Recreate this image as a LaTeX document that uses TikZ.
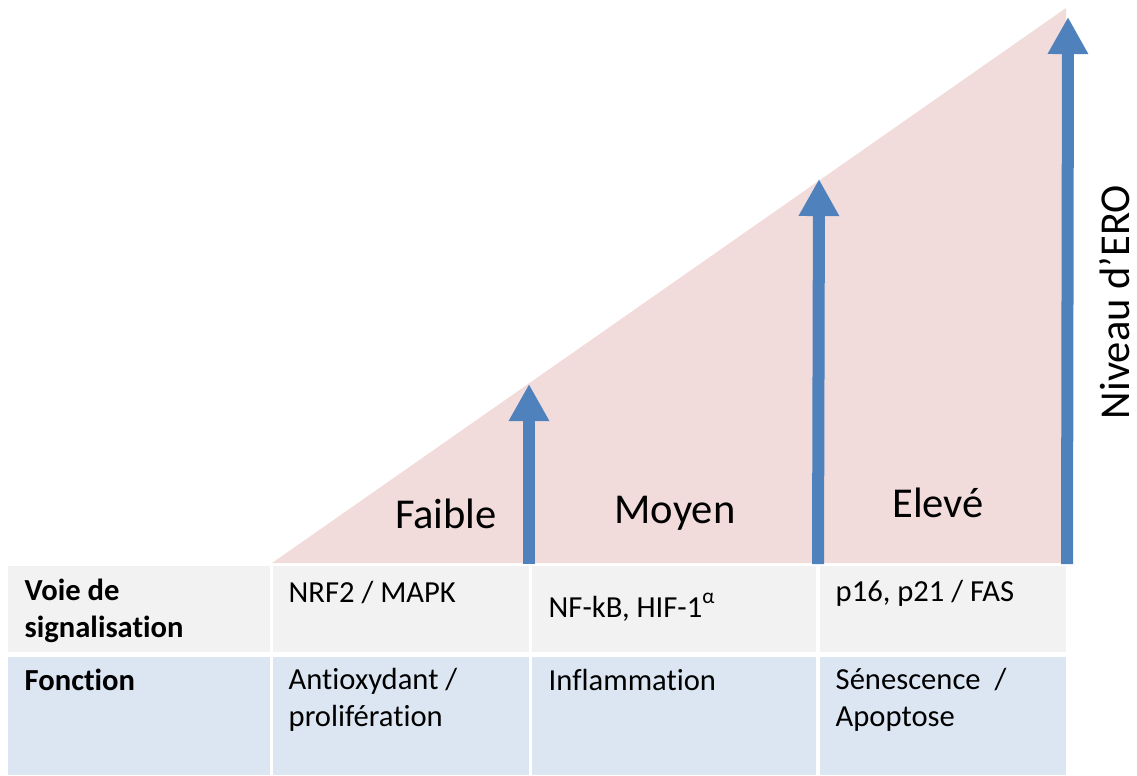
\documentclass[tikz,border=0pt]{standalone}
\usepackage{fontspec}
\setmainfont{Carlito}[Ligatures=NoCommon]
\usepackage{tikz}
\usetikzlibrary{arrows.meta}

\definecolor{rosefond}{RGB}{242,220,219}
\definecolor{bleufleche}{RGB}{79,129,189}
\definecolor{lignegris}{RGB}{242,242,242}
\definecolor{lignebleu}{RGB}{220,230,242}

\tikzset{
  cellule/.style={anchor=north west, inner sep=0pt, outer sep=0pt},
  textecellule/.style={anchor=base west, inner sep=0pt, align=left, font=\fontsize{8.7pt}{10.3pt}\selectfont},
  niveau/.style={anchor=base, inner sep=0pt, font=\fontsize{12.1pt}{14pt}\selectfont},
  fleche/.style={bleufleche, line width=0.12cm, -{Triangle[width=0.38cm, length=0.37cm]}}
}

\begin{document}
\begin{tikzpicture}[x=0.01cm, y=-0.01cm]
  \useasboundingbox (0,0) rectangle (1137,775);

  % --- triangle (niveau croissant) ---
  \fill[rosefond] (272,563) -- (1066,8) -- (1066,563) -- cycle;

  % --- tableau : ligne 1 ---
  \node[cellule, fill=lignegris, minimum width=2.62cm, minimum height=0.86cm] (c10) at (8,566) {};
  \node[cellule, fill=lignegris, minimum width=2.56cm, minimum height=0.86cm] (c11) at (273,566) {};
  \node[cellule, fill=lignegris, minimum width=2.84cm, minimum height=0.86cm] (c12) at (532,566) {};
  \node[cellule, fill=lignegris, minimum width=2.46cm, minimum height=0.86cm] (c13) at (820,566) {};

  % --- tableau : ligne 2 ---
  \node[cellule, fill=lignebleu, minimum width=2.62cm, minimum height=1.18cm] (c20) at (8,657) {};
  \node[cellule, fill=lignebleu, minimum width=2.56cm, minimum height=1.18cm] (c21) at (273,657) {};
  \node[cellule, fill=lignebleu, minimum width=2.84cm, minimum height=1.18cm] (c22) at (532,657) {};
  \node[cellule, fill=lignebleu, minimum width=2.46cm, minimum height=1.18cm] (c23) at (820,657) {};

  % --- textes du tableau (ancre sur la derniere ligne) ---
  \node[textecellule, font=\fontsize{8.7pt}{10.3pt}\selectfont\bfseries] (voie) at ([shift={(16,71)}]c10.north west) {Voie de\\signalisation};
  \node[textecellule] (nrf) at ([shift={(15,36)}]c11.north west) {NRF2 / MAPK};
  \node[textecellule] (nfkb) at ([shift={(16,51)}]c12.north west) {NF-kB, HIF-1\textsuperscript{α}};
  \node[textecellule] (p16) at ([shift={(15,35)}]c13.north west) {p16, p21 / FAS};

  \node[textecellule, font=\fontsize{8.7pt}{10.3pt}\selectfont\bfseries] (fonction) at ([shift={(16,33)}]c20.north west) {Fonction};
  \node[textecellule] (antiox) at ([shift={(15,69)}]c21.north west) {Antioxydant /\\prolifération};
  \node[textecellule] (inflam) at ([shift={(16,33)}]c22.north west) {Inflammation};
  \node[textecellule] (senes) at ([shift={(15,69)}]c23.north west) {Sénescence~ /\\Apoptose};

  % --- niveaux ---
  \node[niveau] (faible) at (446,528) {Faible};
  \node[niveau] (moyen) at (675,523) {Moyen};
  \node[niveau] (eleve) at (938,517) {Elevé};
  \node[niveau, rotate=90] (ero) at (1129,302) {Niveau d’ERO};

  % --- flèches ---
  \coordinate (b1) at (529,564);
  \coordinate (h1) at (529,384);
  \coordinate (b2) at (818,564);
  \coordinate (h2) at (819,179);
  \coordinate (b3) at (1067,564);
  \coordinate (h3) at (1068,17);
  \draw[fleche] (b1) -- (h1);
  \draw[fleche] (b2) -- (h2);
  \draw[fleche] (b3) -- (h3);
\end{tikzpicture}
\end{document}
